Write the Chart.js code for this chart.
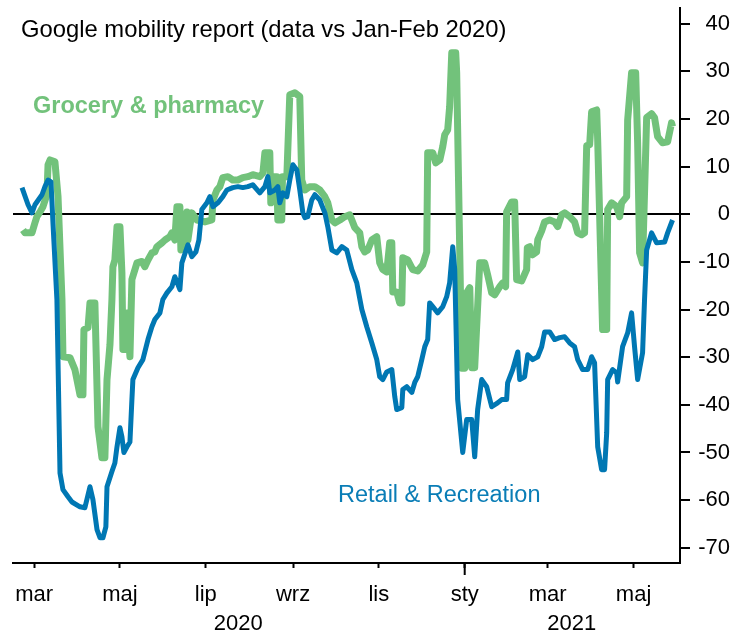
<!DOCTYPE html>
<html>
<head>
<meta charset="utf-8">
<script src="https://cdn.jsdelivr.net/npm/chart.js@4.4.1/dist/chart.umd.min.js"></script>
<style>
  html, body { margin: 0; padding: 0; background: #fff; overflow: hidden; }
  #wrap { position: relative; width: 730px; height: 634px; }
  .note { position: absolute; font-family: "Liberation Sans", Arial, sans-serif; line-height: 1; white-space: nowrap; }
  #title { left: 21px; top: 17px; font-size: 23.8px; color: #000; }
  #grocery-label { left: 33px; top: 94px; font-size: 23.5px; font-weight: bold; color: #72c27b; }
  #retail-label { left: 338px; top: 483px; font-size: 23.5px; color: #0a7db6; }
</style>
</head>
<body>
<div id="wrap">
  <canvas id="chart"></canvas>
  <div class="note" id="title">Google mobility report (data vs Jan-Feb 2020)</div>
  <div class="note" id="grocery-label">Grocery &amp; pharmacy</div>
  <div class="note" id="retail-label">Retail &amp; Recreation</div>
</div>
<script>
"use strict";

// x = days since 15 Feb 2020
const monthTickDays = [15, 76, 137, 199, 260, 321, 380, 441];
const monthTickLabels = ["mar", "maj", "lip", "wrz", "lis", "sty", "mar", "maj"];
const yearLabelDays = [160, 397];
const yearLabels = ["2020", "2021"];
const yearBreakDay = 321;
const valueTicks = [40, 30, 20, 10, 0, -10, -20, -30, -40, -50, -60, -70];

const retailDays = [6.4,10.7,13.5,15.6,20.6,22.7,24.9,27.0,28.4,31.2,
  33.4,35.5,39.1,41.9,47.6,51.1,54.7,56.8,59.7,61.8,
  63.9,66.0,66.8,70.3,72.4,73.9,76.0,77.4,78.8,81.0,
  83.1,84.5,85.2,88.8,92.3,95.9,98.7,100.8,104.4,106.5,
  109.4,112.9,115.0,118.6,120.0,124.3,127.1,130.0,132.1,134.2,
  137.8,139.9,142.1,145.6,149.1,152.0,156.2,159.8,163.3,166.9,
  170.4,175.4,179.0,181.1,182.5,186.1,188.2,189.6,191.8,194.6,
  196.7,198.9,201.7,203.8,206.0,207.4,209.5,212.3,214.5,218.0,
  221.6,223.7,226.6,230.1,233.7,237.2,240.8,244.3,247.9,251.4,
  255.0,258.5,260.6,262.8,265.6,269.2,271.3,272.7,276.3,277.0,
  279.8,283.4,285.5,287.6,290.5,292.6,294.7,296.1,298.3,301.8,
  305.4,308.2,310.3,312.5,313.9,316.0,319.6,322.4,326.0,328.1,
  330.2,333.1,336.6,340.2,344.4,347.3,350.8,351.5,355.1,358.7,
  360.1,363.6,365.8,369.3,372.9,375.7,377.8,381.4,384.9,388.5,
  392.0,395.6,399.1,401.3,404.8,408.4,411.2,413.3,415.5,418.3,
  420.4,421.9,422.6,426.1,429.0,429.7,433.2,436.8,439.6,441.7,
  443.9,447.4,448.8,450.3,453.8,457.4,463.1,465.2,468.7];
const retailValues = [5.6,2.0,0.3,2.0,4.1,5.8,7.2,6.8,-1.8,-17.9,
  -54.3,-57.8,-59.3,-60.4,-61.4,-61.6,-57.2,-59.9,-66.2,-67.9,
  -67.9,-65.6,-57.2,-54.0,-52.2,-48.8,-44.8,-46.7,-50.0,-48.8,
  -47.8,-38.9,-34.7,-32.2,-30.5,-26.3,-23.6,-22.1,-20.7,-17.9,
  -16.5,-15.2,-13.1,-15.8,-10.2,-6.4,-8.9,-7.9,-5.4,1.0,
  2.4,3.7,1.6,2.4,3.7,5.1,5.6,5.8,5.6,5.8,
  6.2,4.5,5.8,7.9,4.5,5.1,5.8,2.4,4.5,3.7,
  7.2,10.4,9.3,5.1,0.3,-0.7,-0.5,3.0,4.1,3.0,
  0.3,-2.6,-7.5,-8.1,-6.8,-7.5,-11.6,-14.4,-20.0,-23.6,
  -27.0,-30.5,-34.1,-34.7,-33.1,-32.6,-38.3,-41.0,-40.6,-36.8,
  -36.2,-37.4,-35.3,-34.1,-30.5,-27.8,-26.3,-18.6,-19.4,-20.7,
  -19.4,-17.3,-14.4,-6.8,-11.6,-38.9,-50.0,-43.1,-43.1,-50.9,
  -41.0,-34.7,-36.2,-40.4,-39.6,-38.9,-38.9,-35.4,-32.6,-28.9,
  -34.7,-34.1,-29.5,-30.5,-29.9,-27.8,-24.7,-24.7,-26.3,-25.9,
  -25.7,-27.0,-27.8,-30.5,-32.6,-32.6,-29.9,-31.2,-48.8,-53.6,
  -53.6,-45.9,-34.7,-32.6,-33.3,-35.2,-27.8,-24.9,-20.7,-27.8,
  -34.7,-29.1,-17.9,-7.5,-3.9,-6.0,-5.8,-3.9,-1.2];

const groceryDays = [7.1,8.5,13.5,15.6,17.0,19.2,21.3,24.1,24.9,26.3,
  29.8,32.0,34.8,35.5,40.5,44.0,47.6,49.7,50.4,53.3,
  54.7,58.2,60.4,63.2,65.3,66.8,68.9,70.3,71.0,72.4,
  73.9,76.0,77.4,78.1,80.3,81.0,83.1,84.5,88.1,91.6,
  93.7,95.9,98.7,100.8,102.3,105.8,108.0,111.5,112.9,115.0,
  116.5,118.6,119.3,120.7,123.6,124.3,127.1,130.7,136.4,141.3,
  142.1,144.9,147.0,149.1,152.7,156.2,159.8,163.3,166.9,170.4,
  175.4,177.6,179.0,182.5,183.2,184.7,187.5,188.2,191.0,191.5,
  194.6,196.7,200.3,203.8,205.2,207.4,210.9,214.5,218.0,221.6,
  223.7,226.6,228.7,232.3,235.8,239.3,242.9,246.4,247.9,250.0,
  252.1,255.0,258.5,260.6,262.8,265.6,267.7,269.2,269.9,272.7,
  274.8,276.3,277.0,280.5,284.1,287.6,291.2,294.0,294.7,298.3,
  300.4,303.3,305.4,306.8,308.9,310.3,311.8,314.6,315.3,318.9,
  321.0,322.4,324.6,326.0,328.1,331.7,335.2,337.3,340.2,342.3,
  345.9,348.0,350.1,350.8,354.4,356.5,357.9,361.5,365.0,365.5,
  367.2,369.3,372.1,372.9,375.7,377.8,381.4,384.9,387.1,389.9,
  392.0,395.6,399.1,401.3,404.1,406.2,407.7,409.8,411.2,414.8,
  415.5,419.0,421.9,422.6,425.4,429.0,431.1,432.5,436.1,436.8,
  439.6,442.5,443.9,445.3,447.4,450.3,453.8,455.9,458.1,461.6,
  465.2,468.0,468.7];
const groceryValues = [-3.3,-3.9,-3.9,-1.8,-0.5,0.5,1.6,4.1,10.4,11.4,
  11.0,3.7,-17.9,-29.9,-30.1,-32.6,-37.9,-37.9,-24.2,-23.8,
  -18.6,-18.6,-44.6,-51.1,-51.1,-34.7,-27.4,-17.9,-11.0,-9.6,
  -2.6,-2.6,-12.3,-28.4,-28.4,-20.7,-29.9,-13.7,-10.2,-9.9,
  -11.0,-9.6,-8.1,-7.9,-6.8,-6.0,-5.4,-4.7,-3.9,-5.4,
  1.6,1.6,-7.5,-6.8,0.5,-5.4,0.3,-1.2,-1.6,-1.2,
  3.0,5.1,5.8,7.7,7.9,7.2,7.2,7.7,7.9,8.3,
  7.9,8.7,12.9,12.9,2.4,7.9,7.9,-1.2,-1.2,7.9,
  7.9,25.1,25.5,24.7,7.2,5.1,5.8,5.8,5.1,3.7,
  2.4,-1.2,-1.8,-1.2,-0.5,-0.1,-2.8,-3.9,-6.8,-7.9,
  -7.5,-5.4,-4.7,-10.2,-11.6,-12.1,-6.0,-6.0,-16.3,-16.3,
  -18.6,-18.6,-9.1,-9.6,-11.6,-11.9,-10.6,-7.9,12.9,12.9,
  10.8,11.4,14.2,16.7,17.7,22.6,33.9,33.9,29.7,-32.3,
  -32.3,-16.5,-15.4,-32.2,-32.2,-10.2,-10.2,-12.7,-16.5,-16.9,
  -15.2,-14.4,-15.2,0.5,2.6,2.6,-13.7,-14.0,-11.6,-7.0,
  -6.8,-8.5,-7.9,-5.4,-3.5,-1.6,-1.2,-1.6,-2.6,-0.1,
  0.3,-0.5,-1.6,-3.9,-4.3,-3.9,14.4,14.6,21.5,21.9,
  15.6,-24.2,-24.2,1.0,2.4,1.6,-0.5,2.4,3.7,19.8,
  29.7,29.7,15.0,-8.1,-10.2,20.3,21.1,20.3,16.3,15.0,
  15.2,19.2,18.4];

const COLORS = {
  retail: "#0077b3",
  grocery: "#72c27b",
  axis: "#000",
};
const FONT = "'Liberation Sans', Arial, sans-serif";

function points(days, values) {
  return days.map((d, i) => ({ x: d, y: values[i] }));
}

function noLabelPadding(s) {
  s.paddingTop = 0;
  s.paddingBottom = 0;
  s.paddingLeft = 0;
  s.paddingRight = 0;
}

const yearBreakTick = {
  id: "yearBreakTick",
  afterDraw(chart) {
    const sx = chart.scales.x;
    const px = sx.getPixelForValue(yearBreakDay);
    const ctx = chart.ctx;
    ctx.save();
    ctx.strokeStyle = COLORS.axis;
    ctx.lineWidth = 2;
    ctx.beginPath();
    ctx.moveTo(px, sx.top);
    ctx.lineTo(px, sx.top + 12);
    ctx.stroke();
    ctx.restore();
  },
};

new Chart(document.getElementById("chart"), {
  type: "line",
  data: {
    datasets: [
      {
        label: "Retail & Recreation",
        data: points(retailDays, retailValues),
        borderColor: COLORS.retail,
        borderWidth: 5,
        pointRadius: 0,
        borderJoinStyle: "round",
        tension: 0,
      },
      {
        label: "Grocery & pharmacy",
        data: points(groceryDays, groceryValues),
        borderColor: COLORS.grocery,
        borderWidth: 7,
        pointRadius: 0,
        borderJoinStyle: "round",
        tension: 0,
      },
    ],
  },
  options: {
    responsive: true,
    maintainAspectRatio: false,
    animation: false,
    events: [],
    layout: { padding: { left: 13, top: 8, right: 0, bottom: 0 } },
    plugins: { legend: { display: false }, tooltip: { enabled: false } },
    scales: {
      x: {
        type: "linear",
        min: 0,
        max: 474,
        grid: { drawOnChartArea: false, drawTicks: true, tickLength: 5, tickColor: COLORS.axis, tickWidth: 2 },
        border: { display: true, color: COLORS.axis, width: 2 },
        afterBuildTicks: s => { s.ticks = monthTickDays.map(v => ({ value: v })); },
        afterFit: s => { s.height = 46; noLabelPadding(s); },
        ticks: {
          autoSkip: false,
          maxRotation: 0,
          padding: 14,
          color: "#000",
          font: { family: FONT, size: 22 },
          callback: (v, i) => monthTickLabels[i],
        },
      },
      x2: {
        type: "linear",
        axis: "x",
        position: "bottom",
        min: 0,
        max: 474,
        grid: { display: false, drawTicks: false },
        border: { display: false },
        afterBuildTicks: s => { s.ticks = yearLabelDays.map(v => ({ value: v })); },
        afterFit: s => { s.height = 25; noLabelPadding(s); },
        ticks: {
          autoSkip: false,
          maxRotation: 0,
          padding: 2,
          color: "#000",
          font: { family: FONT, size: 22 },
          callback: (v, i) => yearLabels[i],
        },
      },
      y: {
        type: "linear",
        position: "right",
        min: -73.2,
        max: 43.3,
        z: 1,
        grid: {
          drawOnChartArea: true,
          color: c => (c.tick && c.tick.value === 0 ? COLORS.axis : "rgba(0,0,0,0)"),
          lineWidth: 2,
          tickLength: 10,
          tickColor: COLORS.axis,
          tickWidth: 2,
        },
        border: { display: true, color: COLORS.axis, width: 2 },
        afterBuildTicks: s => { s.ticks = valueTicks.map(v => ({ value: v })); },
        afterFit: s => { s.width = 50; noLabelPadding(s); },
        ticks: {
          padding: 11,
          crossAlign: "far",
          color: "#000",
          font: { family: FONT, size: 22 },
        },
      },
    },
  },
  plugins: [yearBreakTick],
});
</script>
</body>
</html>
